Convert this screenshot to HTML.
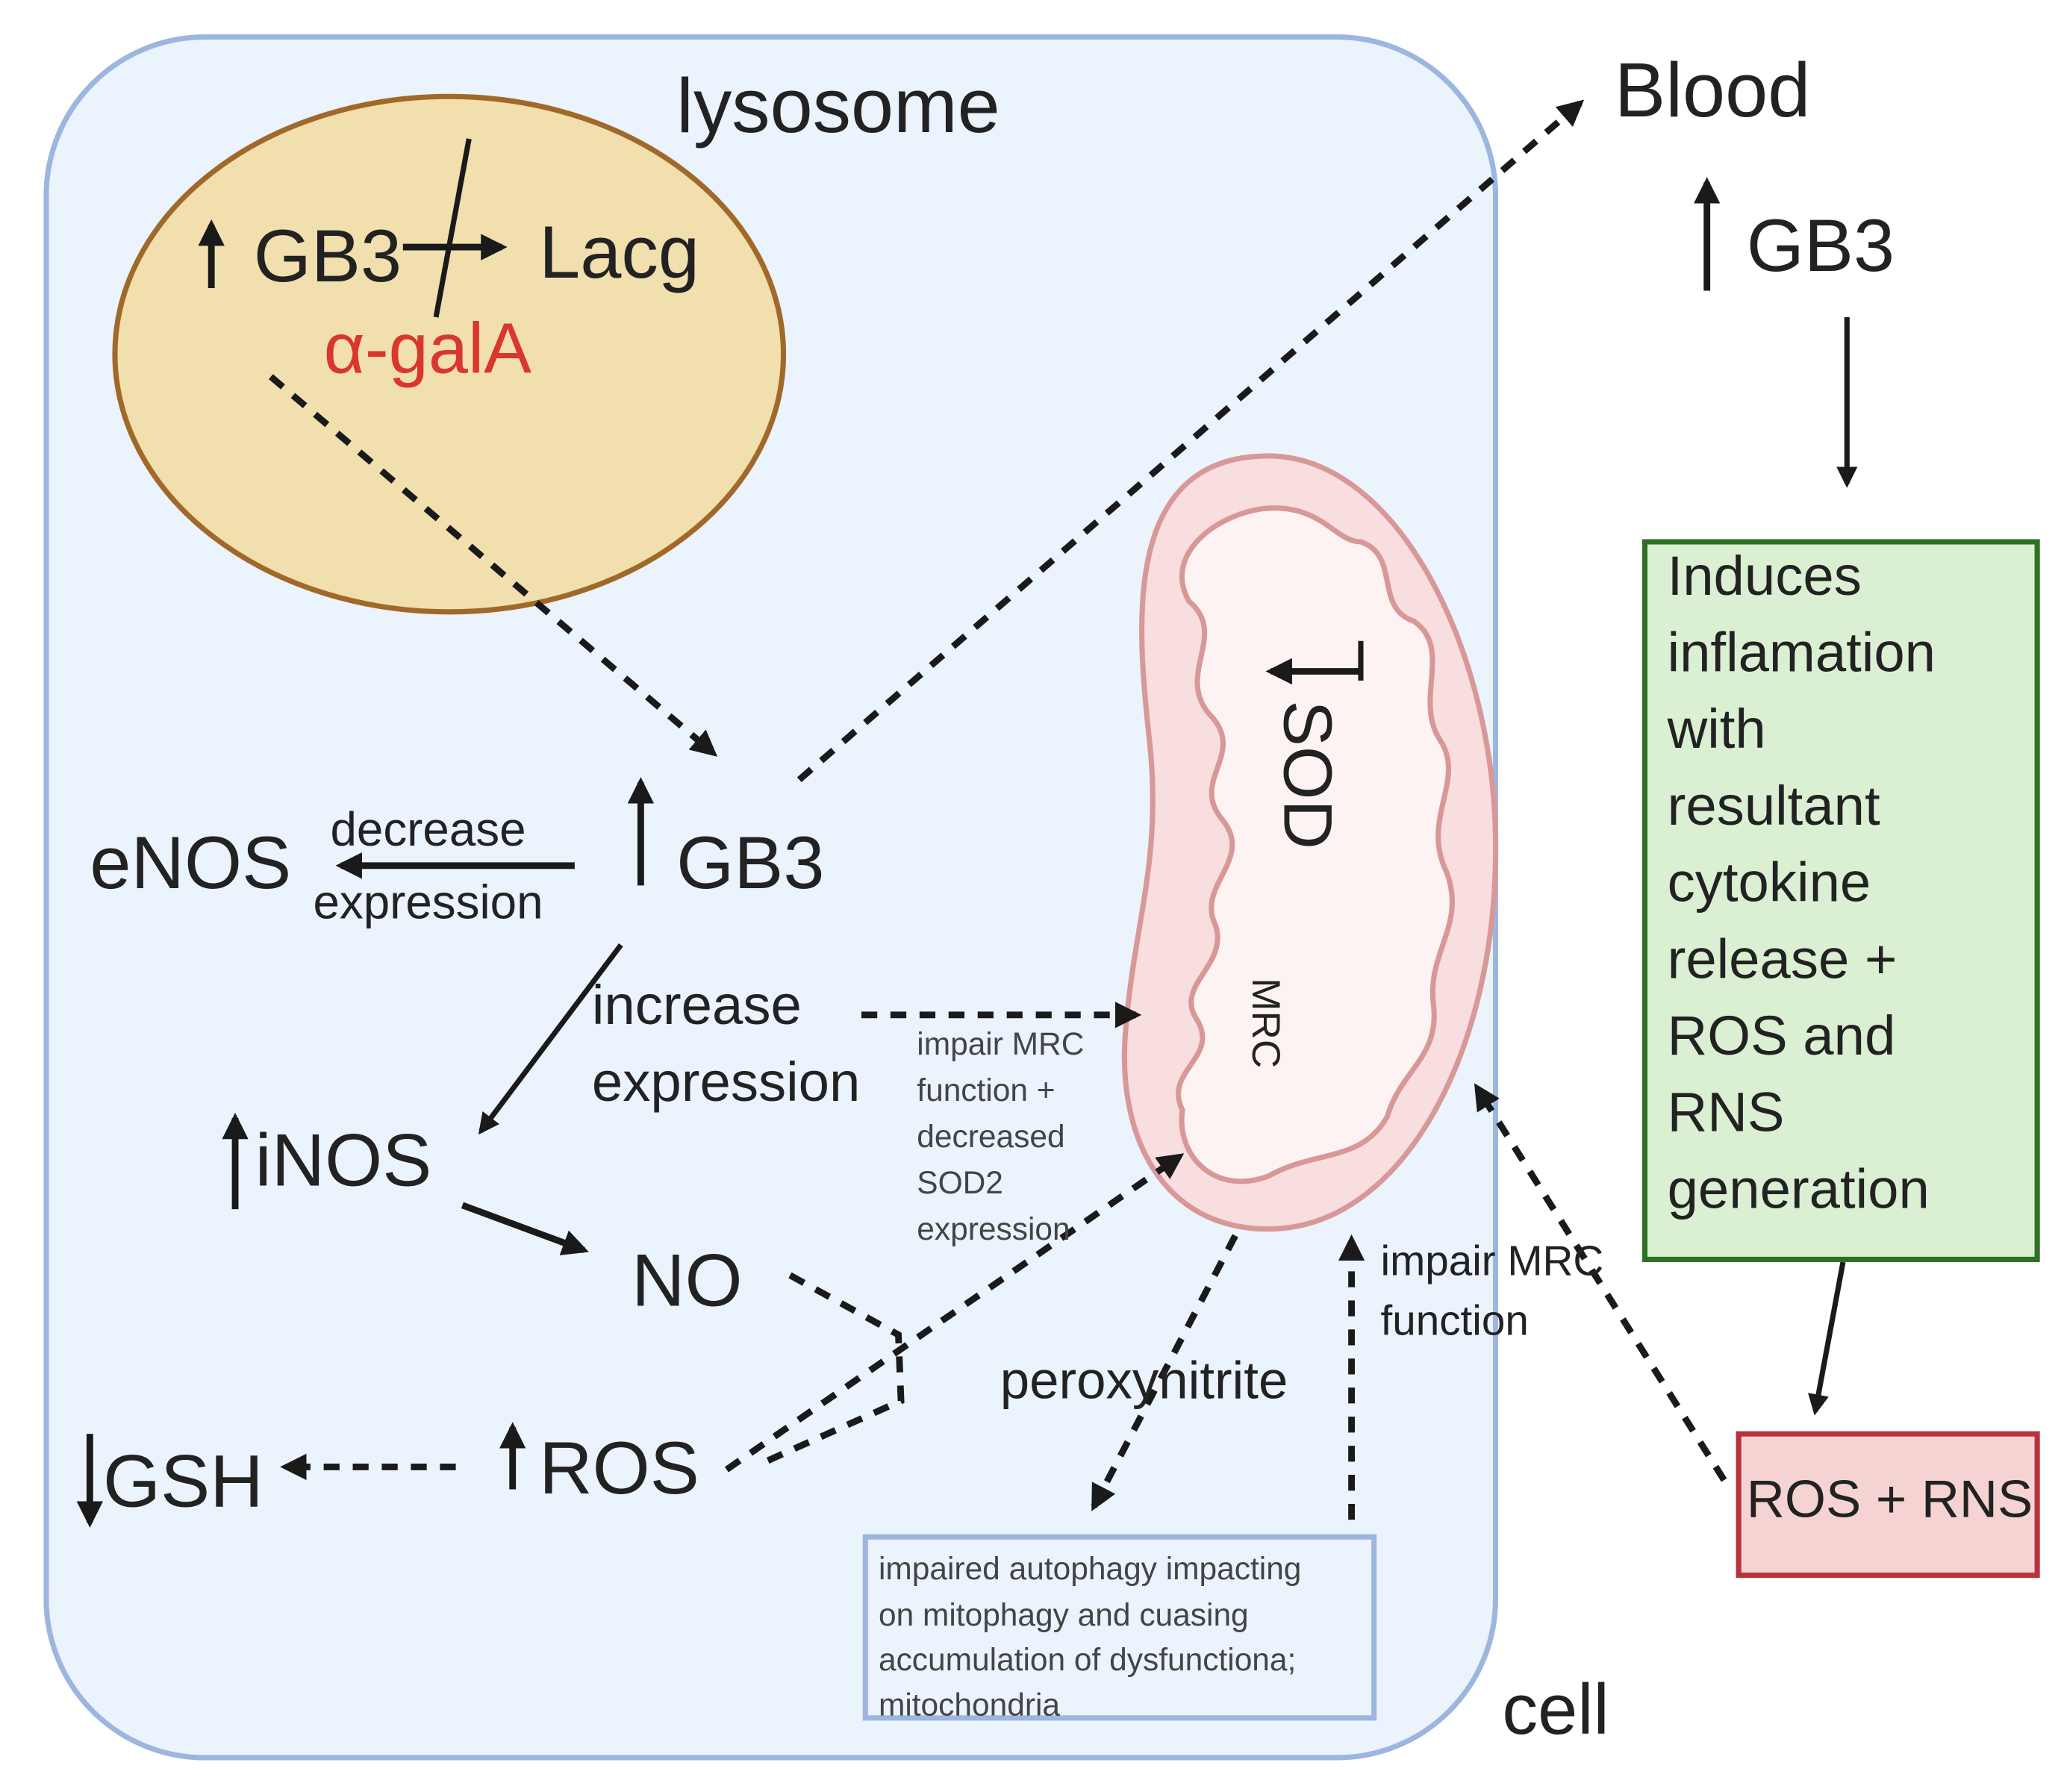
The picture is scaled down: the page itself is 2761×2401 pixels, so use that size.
<!DOCTYPE html>
<html><head><meta charset="utf-8"><style>
html,body{margin:0;padding:0;background:#fff}
svg{display:block}
text{font-family:"Liberation Sans",sans-serif;fill:#222}
</style></head><body>
<svg width="2761" height="2401" viewBox="0 0 1560 1356" preserveAspectRatio="none" xmlns="http://www.w3.org/2000/svg">
<defs>
<marker id="h" viewBox="0 0 10 10" refX="8" refY="5" markerWidth="4" markerHeight="4" orient="auto"><path d="M0,0 L10,5 L0,10 Z" fill="#1a1a1a"/></marker>
</defs>
<rect x="35" y="28" width="1097" height="1302" rx="120" fill="#ebf3fd" stroke="#9db6e0" stroke-width="4"/>
<ellipse cx="340" cy="268" rx="253" ry="195" fill="#f2dfae" stroke="#a0692a" stroke-width="4"/>
<path d="M960 345 C1060 345 1135 500 1132 650 C1130 800 1060 930 960 930 C880 930 845 860 852 780 C858 700 880 650 870 560 C860 470 850 345 960 345 Z" fill="#f8dede" stroke="#d89898" stroke-width="4"/>
<path d="M955 385 C1000 380 1010 410 1030 410 C1060 420 1040 460 1070 470 C1100 490 1070 530 1090 560 C1110 590 1075 620 1095 660 C1110 700 1080 720 1085 760 C1090 800 1060 810 1050 845 C1030 880 995 870 960 890 C920 905 890 875 895 840 C880 810 925 800 905 770 C890 745 930 730 920 700 C905 670 950 650 925 620 C900 590 945 570 915 540 C890 510 930 480 900 455 C880 420 920 390 955 385 Z" fill="#fdf3f3" stroke="#d89898" stroke-width="4"/>
<text x="512" y="100" font-size="58">lysosome</text>
<g stroke="#1a1a1a" stroke-width="5" fill="none">
<line x1="160" y1="218" x2="160" y2="170" marker-end="url(#h)"/>
<line x1="305" y1="187" x2="380" y2="187" marker-end="url(#h)"/>
<line x1="355" y1="105" x2="330" y2="240" stroke-width="4"/>
<line x1="485" y1="670" x2="485" y2="592" marker-end="url(#h)"/>
<line x1="1292" y1="220" x2="1292" y2="138" marker-end="url(#h)"/>
<line x1="1398" y1="240" x2="1398" y2="366" stroke-width="4" marker-end="url(#h)"/>
<line x1="1395" y1="955" x2="1374" y2="1068" stroke-width="4" marker-end="url(#h)"/>
<line x1="435" y1="655" x2="258" y2="655" marker-end="url(#h)"/>
<line x1="470" y1="715" x2="364" y2="856" stroke-width="4" marker-end="url(#h)"/>
<line x1="178" y1="915" x2="178" y2="846" marker-end="url(#h)"/>
<line x1="350" y1="912" x2="442" y2="946" marker-end="url(#h)"/>
<line x1="388" y1="1127" x2="388" y2="1080" marker-end="url(#h)"/>
<line x1="68" y1="1085" x2="68" y2="1152" marker-end="url(#h)"/>
<line x1="1030" y1="508" x2="962" y2="508" marker-end="url(#h)"/>
<line x1="1030" y1="485" x2="1030" y2="515" stroke-width="4"/>
<line x1="1023" y1="1150" x2="1023" y2="938" stroke-dasharray="12,10" marker-end="url(#h)"/>
</g>
<g stroke="#1a1a1a" stroke-width="5" fill="none" stroke-dasharray="12,10">
<line x1="205" y1="285" x2="540" y2="570" marker-end="url(#h)"/>
<line x1="605" y1="590" x2="1196" y2="78" marker-end="url(#h)"/>
<line x1="1305" y1="1120" x2="1118" y2="823" marker-end="url(#h)"/>
<line x1="652" y1="768" x2="860" y2="768" marker-end="url(#h)"/>
<polyline points="598,965 680,1010 682,1060 575,1108"/>
<line x1="550" y1="1112" x2="893" y2="875" marker-end="url(#h)"/>
<line x1="345" y1="1110" x2="216" y2="1110" marker-end="url(#h)"/>
<line x1="935" y1="935" x2="828" y2="1140" marker-end="url(#h)"/>
</g>
<text x="0" y="0" font-size="52" transform="translate(972,530) rotate(90)">SOD</text>
<text x="0" y="0" font-size="30" transform="translate(948,740) rotate(90)">MRC</text>
<text x="192" y="213" font-size="56">GB3</text>
<text x="408" y="210" font-size="56">Lacg</text>
<text x="245" y="282" font-size="54" style="fill:#d9362e">α-galA</text>
<text x="512" y="672" font-size="56">GB3</text>
<text x="1222" y="88" font-size="58">Blood</text>
<text x="1322" y="205" font-size="56">GB3</text>
<rect x="1245" y="410" width="297" height="543" fill="#dbf0d3" stroke="#2e7025" stroke-width="4"/>
<g font-size="42">
<text x="1262" y="450">Induces</text><text x="1262" y="508">inflamation</text><text x="1262" y="566">with</text><text x="1262" y="624">resultant</text><text x="1262" y="682">cytokine</text><text x="1262" y="740">release +</text><text x="1262" y="798">ROS and</text><text x="1262" y="856">RNS</text><text x="1262" y="914">generation</text>
</g>
<rect x="1316" y="1085" width="226" height="107" fill="#f5d3d3" stroke="#b8323a" stroke-width="4"/>
<text x="1322" y="1148" font-size="40">ROS + RNS</text>
<text x="68" y="672" font-size="56">eNOS</text>
<text x="250" y="640" font-size="36">decrease</text>
<text x="237" y="695" font-size="36">expression</text>
<text x="448" y="775" font-size="42">increase</text>
<text x="448" y="833" font-size="42">expression</text>
<g font-size="24"><text x="694" y="798" style="fill:#444">impair MRC</text><text x="694" y="833" style="fill:#444">function +</text><text x="694" y="868" style="fill:#444">decreased</text><text x="694" y="903" style="fill:#444">SOD2</text><text x="694" y="938" style="fill:#444">expression</text></g>
<text x="193" y="897" font-size="56">iNOS</text>
<text x="478" y="988" font-size="56">NO</text>
<text x="408" y="1130" font-size="56">ROS</text>
<text x="78" y="1140" font-size="56">GSH</text>
<text x="757" y="1058" font-size="40">peroxynitrite</text>
<text x="1045" y="965" font-size="32">impair MRC</text>
<text x="1045" y="1010" font-size="32">function</text>
<rect x="655" y="1163" width="385" height="137" fill="#ebf3fd" stroke="#9db6e0" stroke-width="4"/>
<g font-size="24"><text x="665" y="1195" style="fill:#444">impaired autophagy impacting</text><text x="665" y="1230" style="fill:#444">on mitophagy and cuasing</text><text x="665" y="1264" style="fill:#444">accumulation of dysfunctiona;</text><text x="665" y="1298" style="fill:#444">mitochondria</text></g>
<text x="1137" y="1312" font-size="54">cell</text>
</svg>
</body></html>
